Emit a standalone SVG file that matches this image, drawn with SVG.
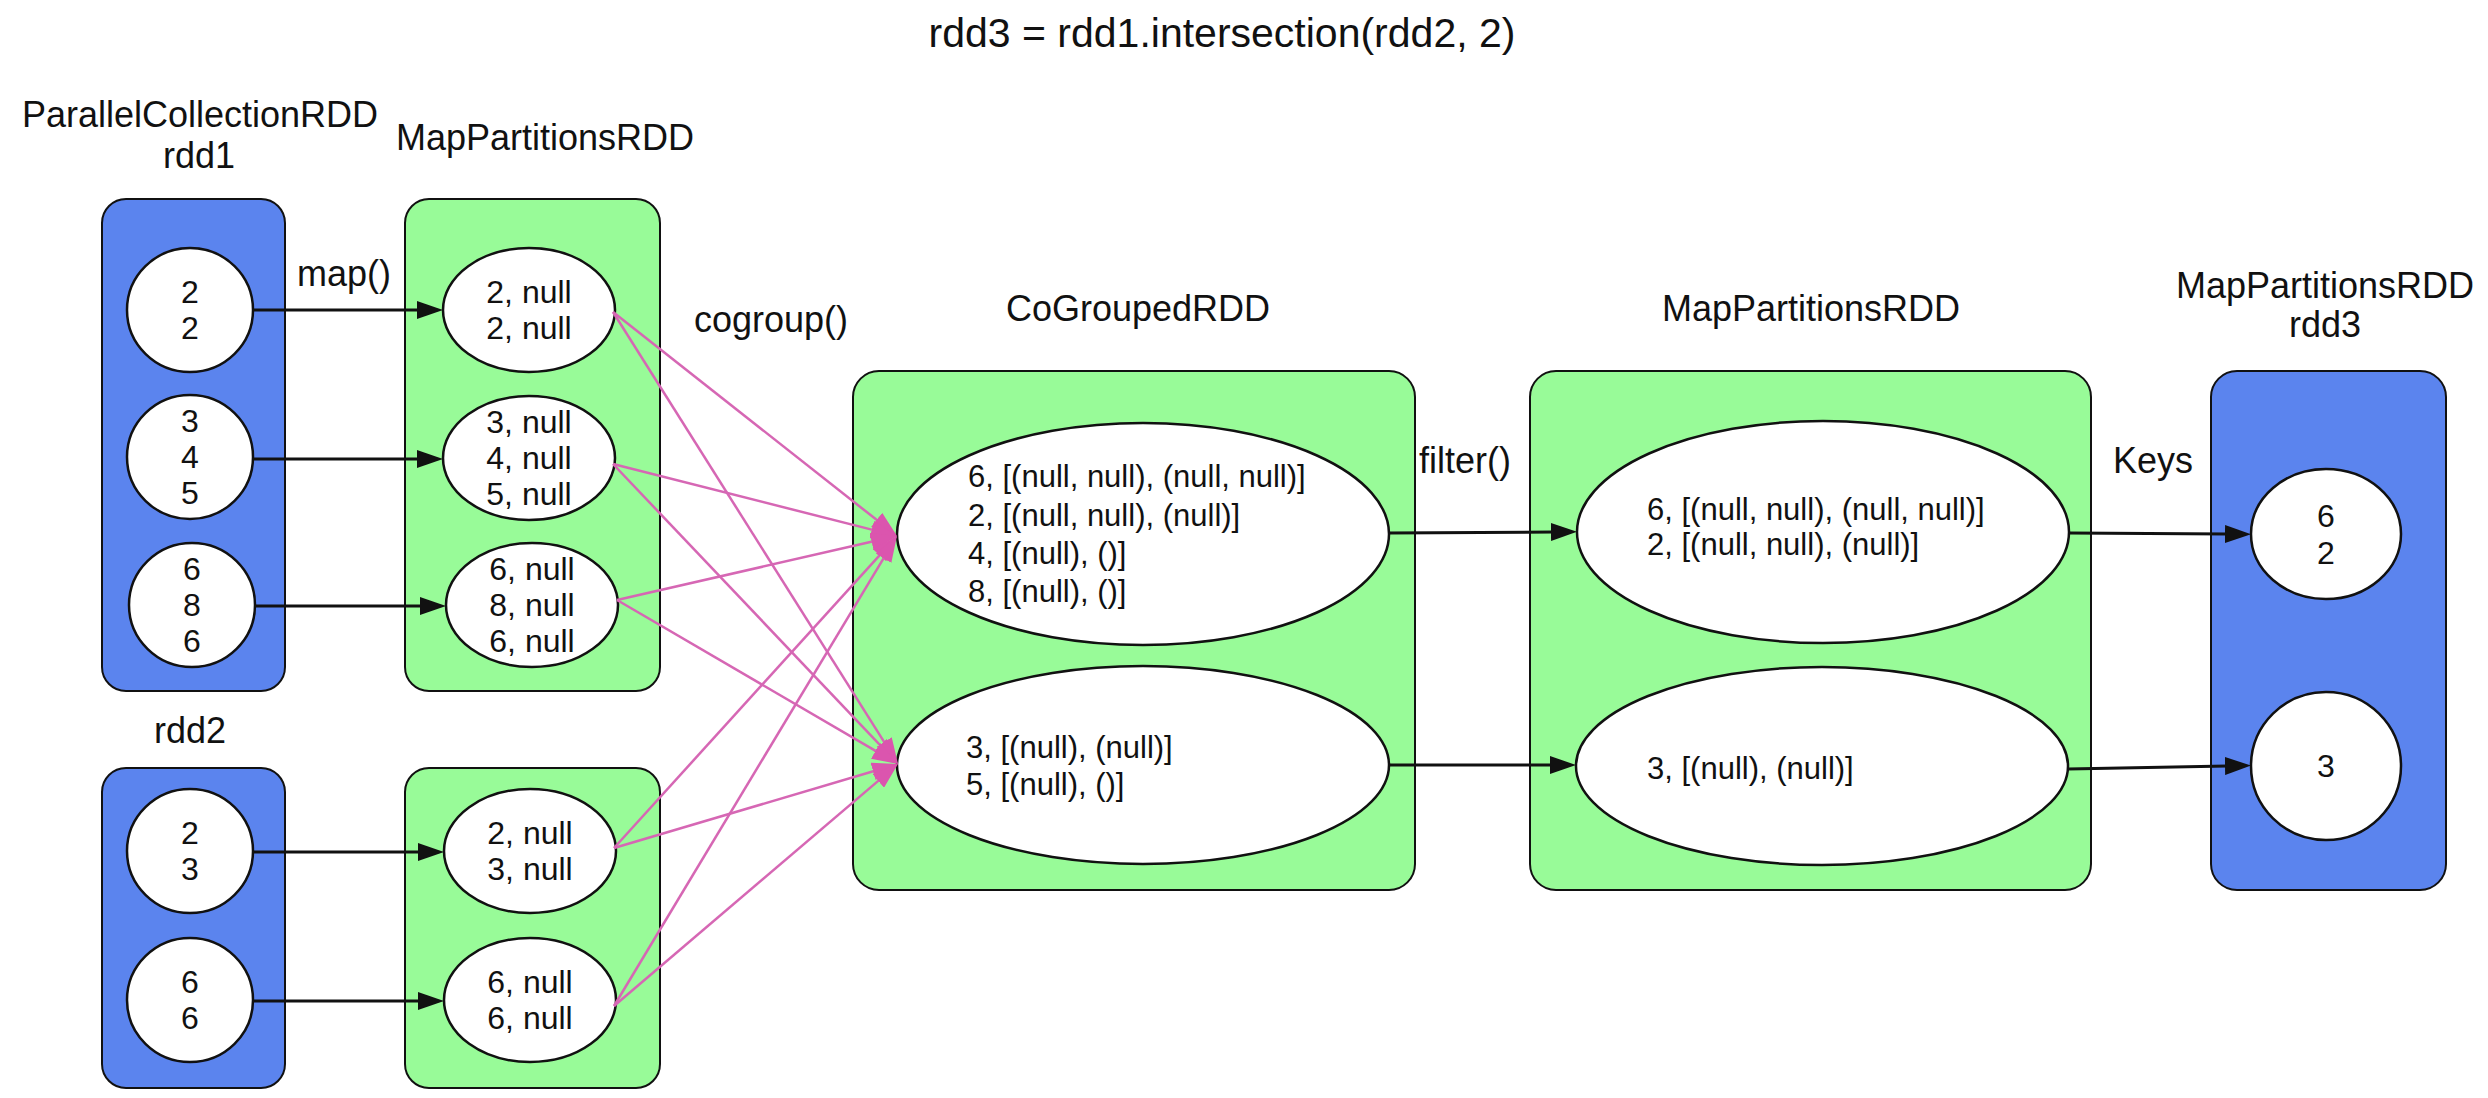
<svg xmlns="http://www.w3.org/2000/svg" width="2488" height="1098" viewBox="0 0 2488 1098">
<style>
text{font-family:"Liberation Sans",Arial,sans-serif;fill:#111}
.title{font-size:41px;text-anchor:middle}
.lbl{font-size:36px;text-anchor:middle}
.in{font-size:32px;text-anchor:middle}
.inL{font-size:31px}
.blue{fill:#5b84ee;stroke:#111;stroke-width:2}
.green{fill:#98fb98;stroke:#111;stroke-width:2}
.node{fill:#fff;stroke:#111;stroke-width:2.5}
.blk{stroke:#111;stroke-width:3;fill:none}
.pink{stroke:#d667b4;stroke-width:2.5;fill:none}
</style>
<defs>
<marker id="ah" viewBox="0 0 26 18" refX="2" refY="9" markerWidth="26" markerHeight="18" markerUnits="userSpaceOnUse" orient="auto">
<path d="M0,0 L26,9 L0,18 z" fill="#111"/>
</marker>
<marker id="ahp" viewBox="0 0 26 18" refX="2" refY="9" markerWidth="26" markerHeight="18" markerUnits="userSpaceOnUse" orient="auto">
<path d="M0,0 L26,9 L0,18 z" fill="#db55ae"/>
</marker>
</defs>
<rect width="2488" height="1098" fill="#fff"/>
<text class="title" x="1222" y="47">rdd3 = rdd1.intersection(rdd2, 2)</text>

<g id="labels">
<text class="lbl" x="200" y="127">ParallelCollectionRDD</text>
<text class="lbl" x="199" y="168">rdd1</text>
<text class="lbl" x="545" y="150">MapPartitionsRDD</text>
<text class="lbl" x="344" y="286">map()</text>
<text class="lbl" x="771" y="332">cogroup()</text>
<text class="lbl" x="1138" y="321">CoGroupedRDD</text>
<text class="lbl" x="1465" y="473">filter()</text>
<text class="lbl" x="1811" y="321">MapPartitionsRDD</text>
<text class="lbl" x="2325" y="298">MapPartitionsRDD</text>
<text class="lbl" x="2325" y="337">rdd3</text>
<text class="lbl" x="2153" y="473">Keys</text>
<text class="lbl" x="190" y="743">rdd2</text>
</g>

<g id="rdd1">
<rect class="blue" x="102" y="199" width="183" height="492" rx="24"/>
<ellipse class="node" cx="190" cy="310" rx="63" ry="62"/>
<text class="in" x="190" y="303">2</text><text class="in" x="190" y="339">2</text>
<ellipse class="node" cx="190" cy="457" rx="63" ry="62"/>
<text class="in" x="190" y="432">3</text><text class="in" x="190" y="468">4</text><text class="in" x="190" y="504">5</text>
<ellipse class="node" cx="192" cy="605" rx="63" ry="62"/>
<text class="in" x="192" y="580">6</text><text class="in" x="192" y="616">8</text><text class="in" x="192" y="652">6</text>
</g>

<g id="map1">
<rect class="green" x="405" y="199" width="255" height="492" rx="24"/>
<ellipse class="node" cx="529" cy="310" rx="86" ry="62"/>
<text class="in" x="529" y="303">2, null</text><text class="in" x="529" y="339">2, null</text>
<ellipse class="node" cx="529" cy="458" rx="86" ry="62"/>
<text class="in" x="529" y="433">3, null</text><text class="in" x="529" y="469">4, null</text><text class="in" x="529" y="505">5, null</text>
<ellipse class="node" cx="532" cy="605" rx="86" ry="62"/>
<text class="in" x="532" y="580">6, null</text><text class="in" x="532" y="616">8, null</text><text class="in" x="532" y="652">6, null</text>
</g>

<g id="rdd2">
<rect class="blue" x="102" y="768" width="183" height="320" rx="24"/>
<ellipse class="node" cx="190" cy="851" rx="63" ry="62"/>
<text class="in" x="190" y="844">2</text><text class="in" x="190" y="880">3</text>
<ellipse class="node" cx="190" cy="1000" rx="63" ry="62"/>
<text class="in" x="190" y="993">6</text><text class="in" x="190" y="1029">6</text>
</g>

<g id="map2">
<rect class="green" x="405" y="768" width="255" height="320" rx="24"/>
<ellipse class="node" cx="530" cy="851" rx="86" ry="62"/>
<text class="in" x="530" y="844">2, null</text><text class="in" x="530" y="880">3, null</text>
<ellipse class="node" cx="530" cy="1000" rx="86" ry="62"/>
<text class="in" x="530" y="993">6, null</text><text class="in" x="530" y="1029">6, null</text>
</g>

<g id="cogrouped">
<rect class="green" x="853" y="371" width="562" height="519" rx="26"/>
<ellipse class="node" cx="1143" cy="534" rx="246" ry="111"/>
<text class="inL" x="968" y="487">6, [(null, null), (null, null)]</text>
<text class="inL" x="968" y="526">2, [(null, null), (null)]</text>
<text class="inL" x="968" y="564">4, [(null), ()]</text>
<text class="inL" x="968" y="602">8, [(null), ()]</text>
<ellipse class="node" cx="1143" cy="765" rx="246" ry="99"/>
<text class="inL" x="966" y="758">3, [(null), (null)]</text>
<text class="inL" x="966" y="795">5, [(null), ()]</text>
</g>

<g id="map3">
<rect class="green" x="1530" y="371" width="561" height="519" rx="26"/>
<ellipse class="node" cx="1823" cy="532" rx="246" ry="111"/>
<text class="inL" x="1647" y="520">6, [(null, null), (null, null)]</text>
<text class="inL" x="1647" y="555">2, [(null, null), (null)]</text>
<ellipse class="node" cx="1822" cy="766" rx="246" ry="99"/>
<text class="inL" x="1647" y="779">3, [(null), (null)]</text>
</g>

<g id="rdd3">
<rect class="blue" x="2211" y="371" width="235" height="519" rx="26"/>
<ellipse class="node" cx="2326" cy="534" rx="75" ry="65"/>
<text class="in" x="2326" y="527">6</text><text class="in" x="2326" y="564">2</text>
<ellipse class="node" cx="2326" cy="766" rx="75" ry="74"/>
<text class="in" x="2326" y="777">3</text>
</g>

<g id="connectors">
<line class="blk" x1="253" y1="310" x2="419" y2="310" marker-end="url(#ah)"/>
<line class="blk" x1="253" y1="459" x2="419" y2="459" marker-end="url(#ah)"/>
<line class="blk" x1="255" y1="606" x2="422" y2="606" marker-end="url(#ah)"/>
<line class="blk" x1="253" y1="852" x2="420" y2="852" marker-end="url(#ah)"/>
<line class="blk" x1="253" y1="1001" x2="420" y2="1001" marker-end="url(#ah)"/>
<line class="blk" x1="1389" y1="533" x2="1553" y2="532" marker-end="url(#ah)"/>
<line class="blk" x1="1389" y1="765" x2="1552" y2="765" marker-end="url(#ah)"/>
<line class="blk" x1="2069" y1="533" x2="2227" y2="534" marker-end="url(#ah)"/>
<line class="blk" x1="2068" y1="769" x2="2227" y2="766" marker-end="url(#ah)"/>

<line class="pink" x1="613" y1="312" x2="878.2" y2="521.1" marker-end="url(#ahp)"/>
<line class="pink" x1="613" y1="464" x2="873.7" y2="530.1" marker-end="url(#ahp)"/>
<line class="pink" x1="617" y1="600" x2="873.6" y2="541.3" marker-end="url(#ahp)"/>
<line class="pink" x1="614" y1="848" x2="880.9" y2="553.8" marker-end="url(#ahp)"/>
<line class="pink" x1="614" y1="1006" x2="884.6" y2="556.6" marker-end="url(#ahp)"/>
<line class="pink" x1="613" y1="312" x2="885.2" y2="743.7" marker-end="url(#ahp)"/>
<line class="pink" x1="613" y1="464" x2="881.5" y2="746.6" marker-end="url(#ahp)"/>
<line class="pink" x1="617" y1="600" x2="877.3" y2="751.9" marker-end="url(#ahp)"/>
<line class="pink" x1="614" y1="848" x2="875.0" y2="770.8" marker-end="url(#ahp)"/>
<line class="pink" x1="614" y1="1006" x2="879.7" y2="779.6" marker-end="url(#ahp)"/>
</g>
</svg>
